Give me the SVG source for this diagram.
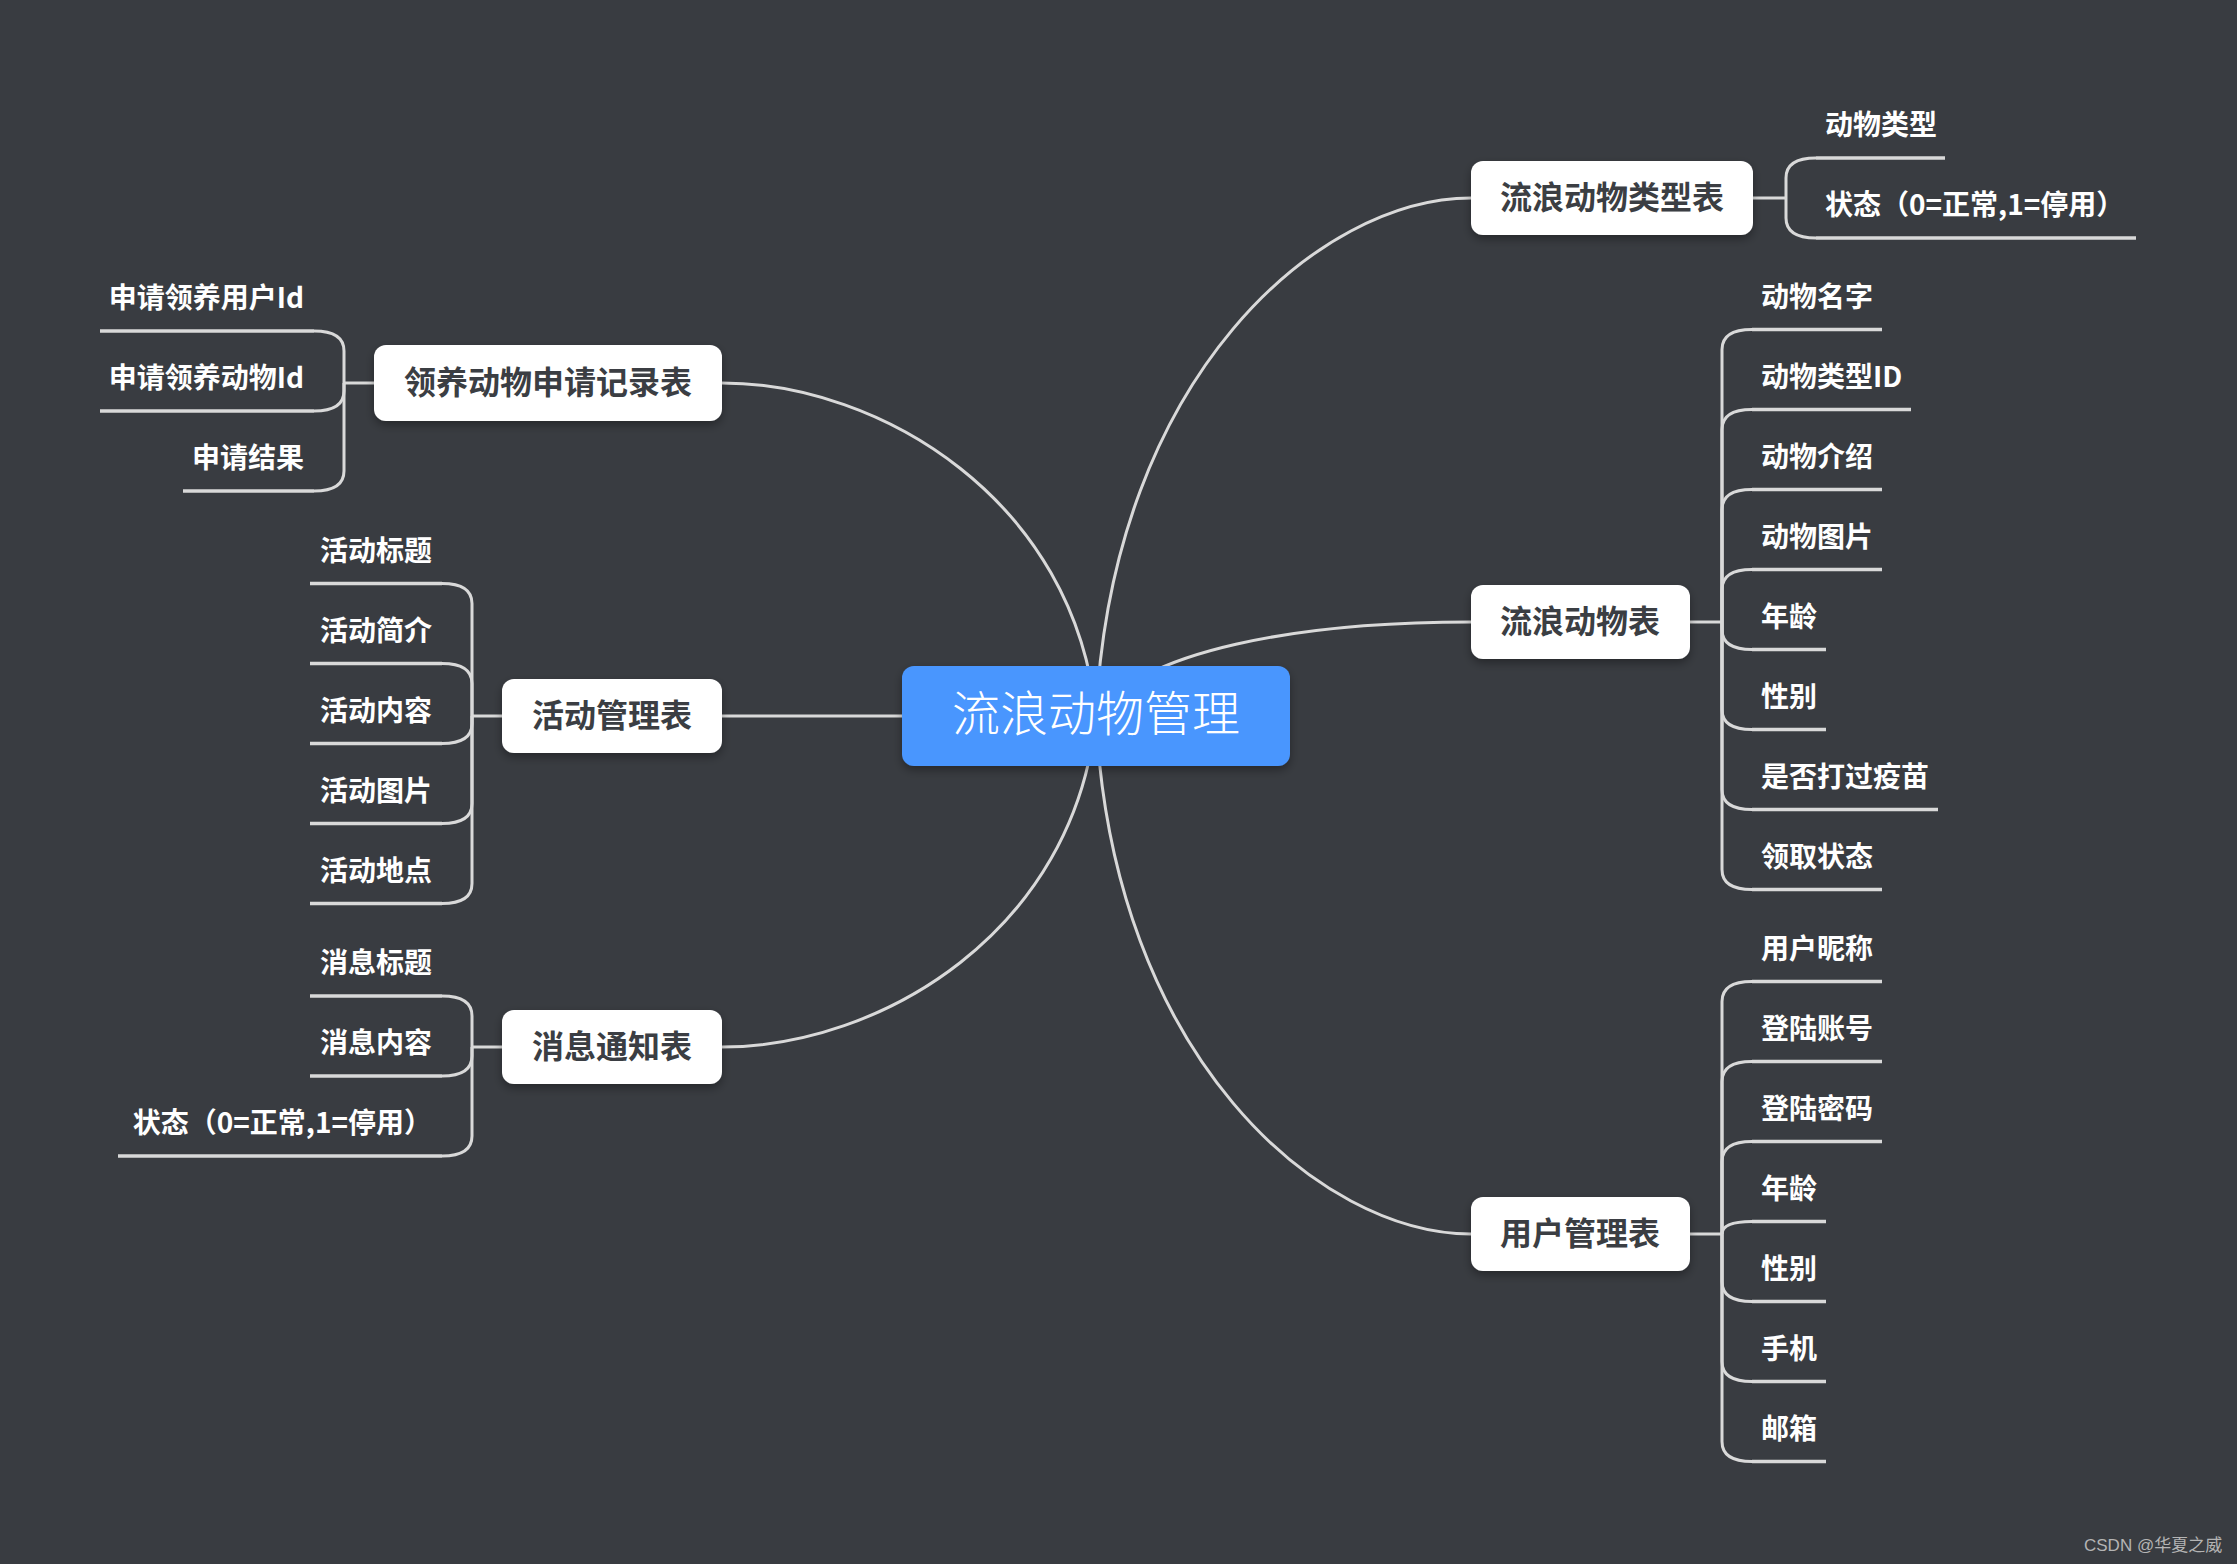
<svg xmlns="http://www.w3.org/2000/svg" width="2237" height="1564" viewBox="0 0 2237 1564">
<defs>
<filter id="sh" x="-20%" y="-30%" width="140%" height="170%">
<feDropShadow dx="0" dy="4" stdDeviation="5" flood-color="#000" flood-opacity="0.35"/>
</filter>
<style>
.bg{fill:#393c41}
.link{fill:none;stroke:#d9d9d9;stroke-width:3}
.ul{fill:none;stroke:#d9d9d9;stroke-width:3.5}
.box{fill:#ffffff;filter:url(#sh)}
.root{fill:#4a96fe;filter:url(#sh)}
.tt{font-family:"Noto Sans CJK SC","Noto Sans",sans-serif;font-weight:700;font-size:32px;fill:#3b3e43;text-anchor:middle;dominant-baseline:central}
.rt{font-family:"Noto Sans CJK SC","Noto Sans",sans-serif;font-weight:300;font-size:48px;fill:#ffffff;text-anchor:middle;dominant-baseline:central}
.lf{font-family:"Noto Sans CJK SC","Noto Sans",sans-serif;font-weight:700;font-size:28px;fill:#ffffff;dominant-baseline:central}
.r{text-anchor:start}
.l{text-anchor:end}
.wm{font-family:"Liberation Sans","Noto Sans CJK SC",sans-serif;font-size:17px;fill:#b4b4b4}
</style>
</defs>
<rect class="bg" x="0" y="0" width="2237" height="1564"/>

<g id="connectors">
<!-- root to main topics -->
<path class="link" d="M1096 716 C1112 375 1320 198 1471 198"/>
<path class="link" d="M1096 716 C1140 650 1300 622 1471 622"/>
<path class="link" d="M1096 716 C1112 1057 1320 1234 1471 1234"/>
<path class="link" d="M1096 716 C1075 500 880 383 722 383"/>
<path class="link" d="M1096 716 L722 716"/>
<path class="link" d="M1096 716 C1075 932 880 1047 722 1047"/>
<!-- 流浪动物类型表 -->
<path class="link" d="M1753 198 H1786"/>
<path class="link" d="M1786 198 V178 Q1786 158 1816 158"/>
<path class="link" d="M1786 198 V218 Q1786 238 1816 238"/>
<!-- 流浪动物表 -->
<path class="link" d="M1690 622 H1722"/>
<path class="link" d="M1722 622 V349.5 Q1722 329.5 1752 329.5"/>
<path class="link" d="M1722 622 V429.5 Q1722 409.5 1752 409.5"/>
<path class="link" d="M1722 622 V509.5 Q1722 489.5 1752 489.5"/>
<path class="link" d="M1722 622 V589.5 Q1722 569.5 1752 569.5"/>
<path class="link" d="M1722 622 V629.5 Q1722 649.5 1752 649.5"/>
<path class="link" d="M1722 622 V709.5 Q1722 729.5 1752 729.5"/>
<path class="link" d="M1722 622 V789.5 Q1722 809.5 1752 809.5"/>
<path class="link" d="M1722 622 V869.5 Q1722 889.5 1752 889.5"/>
<!-- 用户管理表 -->
<path class="link" d="M1690 1234 H1722"/>
<path class="link" d="M1722 1234 V1001.5 Q1722 981.5 1752 981.5"/>
<path class="link" d="M1722 1234 V1081.5 Q1722 1061.5 1752 1061.5"/>
<path class="link" d="M1722 1234 V1161.5 Q1722 1141.5 1752 1141.5"/>
<path class="link" d="M1722 1234 Q1722 1221.5 1752 1221.5"/>
<path class="link" d="M1722 1234 V1281.5 Q1722 1301.5 1752 1301.5"/>
<path class="link" d="M1722 1234 V1361.5 Q1722 1381.5 1752 1381.5"/>
<path class="link" d="M1722 1234 V1441.5 Q1722 1461.5 1752 1461.5"/>
<!-- 领养动物申请记录表 -->
<path class="link" d="M374 383 H344"/>
<path class="link" d="M344 383 V351 Q344 331 314 331"/>
<path class="link" d="M344 383 V391 Q344 411 314 411"/>
<path class="link" d="M344 383 V471 Q344 491 314 491"/>
<!-- 活动管理表 -->
<path class="link" d="M502 716 H472"/>
<path class="link" d="M472 716 V603.5 Q472 583.5 442 583.5"/>
<path class="link" d="M472 716 V683.5 Q472 663.5 442 663.5"/>
<path class="link" d="M472 716 V723.5 Q472 743.5 442 743.5"/>
<path class="link" d="M472 716 V803.5 Q472 823.5 442 823.5"/>
<path class="link" d="M472 716 V883.5 Q472 903.5 442 903.5"/>
<!-- 消息通知表 -->
<path class="link" d="M502 1047 H472"/>
<path class="link" d="M472 1047 V1016 Q472 996 442 996"/>
<path class="link" d="M472 1047 V1056 Q472 1076 442 1076"/>
<path class="link" d="M472 1047 V1136 Q472 1156 442 1156"/>
</g>

<g id="root">
<rect class="root" x="902" y="666" width="388" height="100" rx="12"/>
<text class="rt" x="1096" y="710">流浪动物管理</text>
</g>

<g id="t-type">
<rect class="box" x="1471" y="161" width="282" height="74" rx="12"/>
<text class="tt" x="1612" y="195">流浪动物类型表</text>
</g>
<g id="t-type-1"><path class="ul" d="M1816 158 H1945"/><text class="lf r" x="1825" y="123">动物类型</text></g>
<g id="t-type-2"><path class="ul" d="M1816 238 H2136"/><text class="lf r" x="1825" y="203">状态（0=正常,1=停用）</text></g>

<g id="t-animal">
<rect class="box" x="1471" y="585" width="219" height="74" rx="12"/>
<text class="tt" x="1580" y="619">流浪动物表</text>
</g>
<g id="t-animal-1"><path class="ul" d="M1752 329.5 H1882"/><text class="lf r" x="1761" y="294.5">动物名字</text></g>
<g id="t-animal-2"><path class="ul" d="M1752 409.5 H1911"/><text class="lf r" x="1761" y="374.5">动物类型ID</text></g>
<g id="t-animal-3"><path class="ul" d="M1752 489.5 H1882"/><text class="lf r" x="1761" y="454.5">动物介绍</text></g>
<g id="t-animal-4"><path class="ul" d="M1752 569.5 H1882"/><text class="lf r" x="1761" y="534.5">动物图片</text></g>
<g id="t-animal-5"><path class="ul" d="M1752 649.5 H1826"/><text class="lf r" x="1761" y="614.5">年龄</text></g>
<g id="t-animal-6"><path class="ul" d="M1752 729.5 H1826"/><text class="lf r" x="1761" y="694.5">性别</text></g>
<g id="t-animal-7"><path class="ul" d="M1752 809.5 H1938"/><text class="lf r" x="1761" y="774.5">是否打过疫苗</text></g>
<g id="t-animal-8"><path class="ul" d="M1752 889.5 H1882"/><text class="lf r" x="1761" y="854.5">领取状态</text></g>

<g id="t-user">
<rect class="box" x="1471" y="1197" width="219" height="74" rx="12"/>
<text class="tt" x="1580" y="1231">用户管理表</text>
</g>
<g id="t-user-1"><path class="ul" d="M1752 981.5 H1882"/><text class="lf r" x="1761" y="946.5">用户昵称</text></g>
<g id="t-user-2"><path class="ul" d="M1752 1061.5 H1882"/><text class="lf r" x="1761" y="1026.5">登陆账号</text></g>
<g id="t-user-3"><path class="ul" d="M1752 1141.5 H1882"/><text class="lf r" x="1761" y="1106.5">登陆密码</text></g>
<g id="t-user-4"><path class="ul" d="M1752 1221.5 H1826"/><text class="lf r" x="1761" y="1186.5">年龄</text></g>
<g id="t-user-5"><path class="ul" d="M1752 1301.5 H1826"/><text class="lf r" x="1761" y="1266.5">性别</text></g>
<g id="t-user-6"><path class="ul" d="M1752 1381.5 H1826"/><text class="lf r" x="1761" y="1346.5">手机</text></g>
<g id="t-user-7"><path class="ul" d="M1752 1461.5 H1826"/><text class="lf r" x="1761" y="1426.5">邮箱</text></g>

<g id="t-adopt">
<rect class="box" x="374" y="345" width="348" height="76" rx="12"/>
<text class="tt" x="548" y="380">领养动物申请记录表</text>
</g>
<g id="t-adopt-1"><path class="ul" d="M100 331 H314"/><text class="lf l" x="304" y="296">申请领养用户Id</text></g>
<g id="t-adopt-2"><path class="ul" d="M100 411 H314"/><text class="lf l" x="304" y="376">申请领养动物Id</text></g>
<g id="t-adopt-3"><path class="ul" d="M183 491 H314"/><text class="lf l" x="304" y="456">申请结果</text></g>

<g id="t-activity">
<rect class="box" x="502" y="679" width="220" height="74" rx="12"/>
<text class="tt" x="612" y="713">活动管理表</text>
</g>
<g id="t-activity-1"><path class="ul" d="M310 583.5 H442"/><text class="lf l" x="432" y="548.5">活动标题</text></g>
<g id="t-activity-2"><path class="ul" d="M310 663.5 H442"/><text class="lf l" x="432" y="628.5">活动简介</text></g>
<g id="t-activity-3"><path class="ul" d="M310 743.5 H442"/><text class="lf l" x="432" y="708.5">活动内容</text></g>
<g id="t-activity-4"><path class="ul" d="M310 823.5 H442"/><text class="lf l" x="432" y="788.5">活动图片</text></g>
<g id="t-activity-5"><path class="ul" d="M310 903.5 H442"/><text class="lf l" x="432" y="868.5">活动地点</text></g>

<g id="t-msg">
<rect class="box" x="502" y="1010" width="220" height="74" rx="12"/>
<text class="tt" x="612" y="1044">消息通知表</text>
</g>
<g id="t-msg-1"><path class="ul" d="M310 996 H442"/><text class="lf l" x="432" y="961">消息标题</text></g>
<g id="t-msg-2"><path class="ul" d="M310 1076 H442"/><text class="lf l" x="432" y="1041">消息内容</text></g>
<g id="t-msg-3"><path class="ul" d="M118 1156 H442"/><text class="lf l" x="432" y="1121">状态（0=正常,1=停用）</text></g>

<text class="wm" x="2084" y="1551">CSDN @华夏之威</text>
</svg>
